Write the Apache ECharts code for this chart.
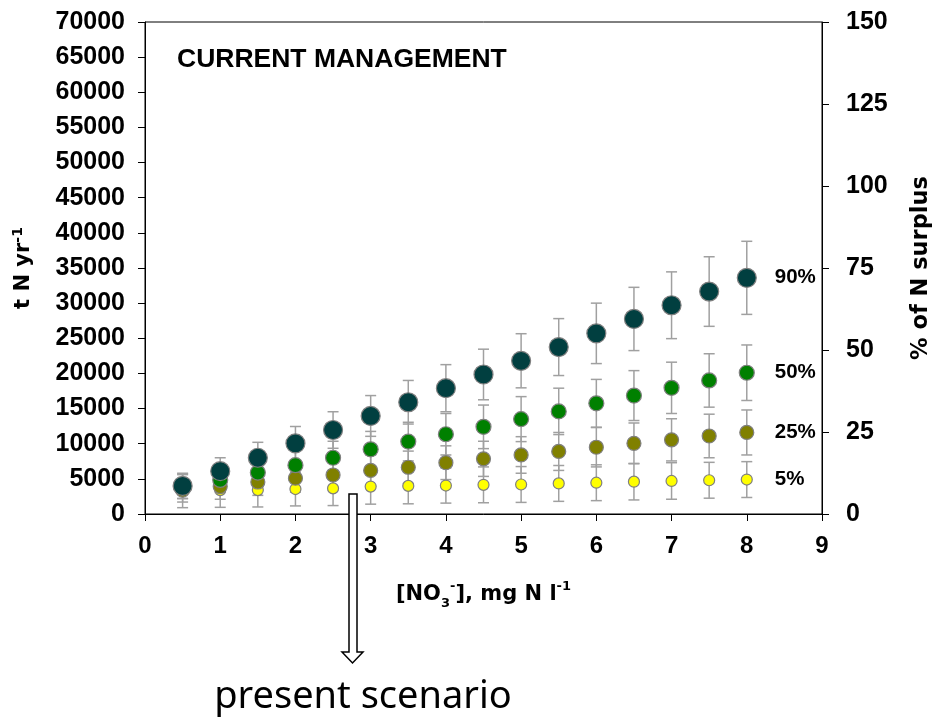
<!DOCTYPE html>
<html>
<head>
<meta charset="utf-8">
<script src="https://cdn.jsdelivr.net/npm/echarts@6/dist/echarts.min.js"></script>
<style>
html,body{margin:0;padding:0;background:#fff;}
#chart{width:941px;height:721px;}
</style>
</head>
<body>
<div id="chart"></div>
<script>
// ---- data ----
var xValues = [0.5, 1, 1.5, 2, 2.5, 3, 3.5, 4, 4.5, 5, 5.5, 6, 6.5, 7, 7.5, 8];
var seriesNames = ['5%', '25%', '50%', '90%'];
var values5  = [3300, 3400, 3400, 3550, 3650, 3900, 4000, 4050, 4150, 4200, 4350, 4450, 4600, 4700, 4800, 4900];
var errors5  = [2400, 2450, 2400, 2400, 2450, 2500, 2550, 2500, 2550, 2550, 2550, 2550, 2600, 2600, 2550, 2550];
var values25 = [3400, 3900, 4550, 5100, 5550, 6200, 6650, 7300, 7850, 8400, 8900, 9500, 10050, 10550, 11100, 11600];
var errors25 = [1700, 1800, 1900, 2000, 2100, 2200, 2300, 2400, 2500, 2600, 2700, 2800, 2900, 3000, 3100, 3200];
var values50 = [3900, 4850, 5900, 6950, 8000, 9200, 10300, 11350, 12400, 13500, 14600, 15750, 16850, 17950, 19000, 20100];
var errors50 = [1700, 1800, 2000, 2200, 2350, 2550, 2750, 2950, 3100, 3200, 3300, 3400, 3550, 3650, 3800, 3950];
var values90 = [4000, 6100, 8000, 10050, 11950, 13950, 15900, 17900, 19850, 21800, 23750, 25700, 27750, 29700, 31650, 33600];
var errors90 = [1800, 1900, 2200, 2400, 2600, 2900, 3100, 3350, 3600, 3850, 4050, 4300, 4500, 4750, 4950, 5200];
var xTicks = [0, 9, 1];
var leftTicks = [0, 70000, 5000];
var rightTicks = [0, 150, 25];

// ---- styles ----
var colors = ['#ffff00', '#808000', '#008000', '#013f40'];
var sizes = [11, 14, 15, 19];
var allValues = [values5, values25, values50, values90];
var allErrors = [errors5, errors25, errors50, errors90];

var chart = echarts.init(document.getElementById('chart'), null, {renderer: 'canvas'});

var series = [];
seriesNames.forEach(function (name, k) {
  var vals = allValues[k], errs = allErrors[k];
  series.push({
    type: 'custom',
    name: name + ' err',
    xAxisIndex: 0, yAxisIndex: 0,
    silent: true,
    encode: {x: 0, y: [1, 2]},
    data: xValues.map(function (x, i) { return [x, vals[i] - errs[i], vals[i] + errs[i]]; }),
    renderItem: function (params, api) {
      var x = api.value(0);
      var lo = api.coord([x, api.value(1)]);
      var hi = api.coord([x, api.value(2)]);
      var hw = 5.5;
      var st = {stroke: '#a0a0a0', lineWidth: 1.5};
      return {
        type: 'group',
        children: [
          {type: 'line', shape: {x1: hi[0], y1: hi[1], x2: lo[0], y2: lo[1]}, style: st},
          {type: 'line', shape: {x1: hi[0] - hw, y1: hi[1], x2: hi[0] + hw, y2: hi[1]}, style: st},
          {type: 'line', shape: {x1: lo[0] - hw, y1: lo[1], x2: lo[0] + hw, y2: lo[1]}, style: st}
        ]
      };
    }
  });
  series.push({
    type: 'scatter',
    name: name,
    xAxisIndex: 0, yAxisIndex: 0,
    symbol: 'circle',
    symbolSize: sizes[k],
    itemStyle: {color: colors[k], borderColor: '#7f7f7f', borderWidth: 1.2, opacity: 1},
    emphasis: {disabled: true},
    data: xValues.map(function (x, i) {
      var d = {value: [x, vals[i]]};
      if (i === xValues.length - 1) {
        d.label = {
          show: true,
          formatter: name,
          position: ['50%', '50%'],
          align: 'left',
          verticalAlign: 'middle',
          offset: [28, 0],
          color: '#000',
          fontFamily: 'Liberation Sans',
          fontWeight: 'bold',
          fontSize: 20.5
        };
      }
      return d;
    })
  });
});

function plain(v) { return String(v); }

var option = {
  animation: false,
  backgroundColor: '#fff',
  title: {
    text: 'CURRENT MANAGEMENT',
    left: 177, top: 46, padding: 0,
    textStyle: {fontFamily: 'Liberation Sans', fontWeight: 'bold', fontSize: 26.5, color: '#000'}
  },
  grid: {left: 145, right: 114, top: 22, bottom: 207, show: true, borderColor: '#000', borderWidth: 1, backgroundColor: 'transparent'},
  xAxis: {
    type: 'value',
    min: xTicks[0], max: xTicks[1], interval: xTicks[2],
    name: '{a|[NO}{sub|3}{sup|-}{a|], mg N l}{sup|-1}',
    nameLocation: 'middle',
    nameGap: 66,
    nameTextStyle: {
      rich: {
        a: {fontFamily: 'DejaVu Sans', fontWeight: 'bold', fontSize: 21, lineHeight: 30, color: '#000'},
        sub: {fontFamily: 'DejaVu Sans', fontWeight: 'bold', fontSize: 13, lineHeight: 13, verticalAlign: 'bottom', color: '#000'},
        sup: {fontFamily: 'DejaVu Sans', fontWeight: 'bold', fontSize: 13, lineHeight: 13, verticalAlign: 'top', color: '#000'}
      }
    },
    axisLine: {show: true, lineStyle: {color: '#000', width: 1}},
    axisTick: {show: true, inside: false, length: 7, lineStyle: {color: '#000', width: 1}},
    axisLabel: {margin: 20, fontFamily: 'Liberation Sans', fontWeight: 'bold', fontSize: 24, color: '#000', formatter: plain},
    splitLine: {show: false}
  },
  yAxis: [
    {
      type: 'value',
      position: 'left',
      min: leftTicks[0], max: leftTicks[1], interval: leftTicks[2],
      name: '{a|t N yr}{sup|-1}',
      nameLocation: 'middle',
      nameGap: 108,
      nameTextStyle: {
        rich: {
          a: {fontFamily: 'DejaVu Sans', fontWeight: 'bold', fontSize: 21, lineHeight: 26, color: '#000'},
          sup: {fontFamily: 'DejaVu Sans', fontWeight: 'bold', fontSize: 14, lineHeight: 14, verticalAlign: 'top', color: '#000'}
        }
      },
      axisLine: {show: true, lineStyle: {color: '#000', width: 1}},
      axisTick: {show: true, inside: false, length: 7, lineStyle: {color: '#000', width: 1}},
      axisLabel: {margin: 20, fontFamily: 'Liberation Sans', fontWeight: 'bold', fontSize: 25, color: '#000', formatter: plain},
      splitLine: {show: false}
    },
    {
      type: 'value',
      position: 'right',
      min: rightTicks[0], max: rightTicks[1], interval: rightTicks[2],
      name: '% of N surplus',
      nameLocation: 'middle',
      nameGap: 88,
      nameTextStyle: {fontFamily: 'DejaVu Sans', fontWeight: 'bold', fontSize: 22.5, color: '#000'},
      axisLine: {show: true, lineStyle: {color: '#000', width: 1}},
      axisTick: {show: true, inside: false, length: 7, lineStyle: {color: '#000', width: 1}},
      axisLabel: {margin: 24, fontFamily: 'Liberation Sans', fontWeight: 'bold', fontSize: 25, color: '#000', formatter: plain},
      splitLine: {show: false}
    }
  ],
  series: series,
  graphic: [
    {
      type: 'polygon',
      z: 100,
      shape: {points: [[349, 494], [357, 494], [357, 652], [363, 652], [352.5, 663], [342, 652], [349, 652]]},
      style: {fill: '#fff', stroke: '#000', lineWidth: 1.5}
    },
    {
      type: 'text',
      z: 100,
      x: 363, y: 697,
      style: {text: 'present scenario', fill: '#000', font: '38px "Noto Sans"', textAlign: 'center', textVerticalAlign: 'middle'}
    }
  ]
};
chart.setOption(option);
</script>
</body>
</html>
